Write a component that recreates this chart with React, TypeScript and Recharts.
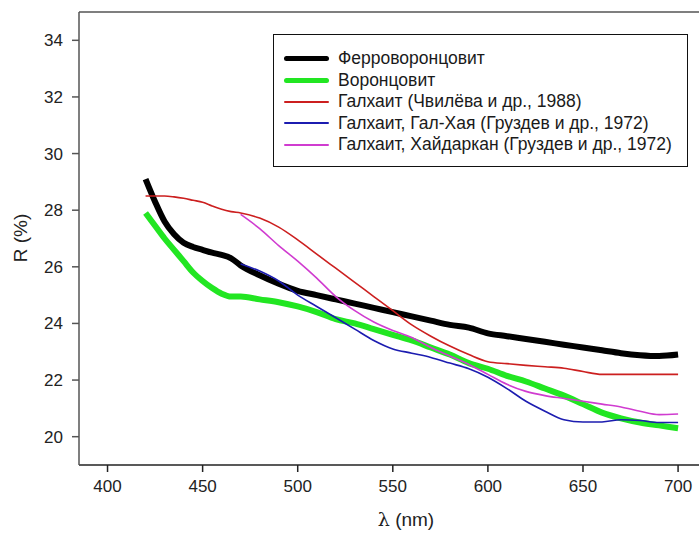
import { LineChart, Line, XAxis, YAxis, ReferenceLine, Label } from "recharts";

// wavelength grids (nm)
const wlA = [420, 425, 430, 435, 440, 445, 450, 455, 460, 465, 470, 480, 490, 500, 510, 520, 530, 540, 550, 560, 570, 580, 590, 600, 610, 620, 630, 640, 650, 660, 670, 680, 690, 700];
const wlB = [470, 480, 490, 500, 510, 520, 530, 540, 550, 560, 570, 580, 590, 600, 610, 620, 630, 640, 650, 660, 670, 680, 690, 700];

// reflectance R (%)
const ferro = [29.1, 28.3, 27.6, 27.15, 26.85, 26.7, 26.6, 26.5, 26.42, 26.3, 26.05, 25.7, 25.4, 25.15, 25.0, 24.85, 24.7, 24.55, 24.4, 24.25, 24.1, 23.95, 23.85, 23.65, 23.55, 23.45, 23.35, 23.25, 23.15, 23.05, 22.95, 22.88, 22.85, 22.9];
const voron = [27.9, 27.45, 27.0, 26.6, 26.2, 25.8, 25.5, 25.25, 25.05, 24.95, 24.95, 24.85, 24.75, 24.6, 24.4, 24.15, 24.0, 23.8, 23.6, 23.4, 23.15, 22.9, 22.6, 22.4, 22.15, 21.95, 21.7, 21.45, 21.15, 20.85, 20.65, 20.5, 20.4, 20.3];
const chvileva = [28.5, 28.5, 28.5, 28.47, 28.42, 28.35, 28.28, 28.15, 28.03, 27.95, 27.9, 27.72, 27.4, 26.95, 26.45, 25.95, 25.45, 24.95, 24.45, 23.95, 23.55, 23.2, 22.9, 22.65, 22.58, 22.52, 22.47, 22.42, 22.3, 22.2, 22.2, 22.2, 22.2, 22.2];
const galKhaya = [26.1, 25.85, 25.5, 25.0, 24.6, 24.2, 23.8, 23.4, 23.1, 22.95, 22.8, 22.6, 22.4, 22.1, 21.7, 21.25, 20.9, 20.6, 20.52, 20.52, 20.6, 20.57, 20.5, 20.5];
const khaidarkan = [27.85, 27.35, 26.75, 26.2, 25.6, 24.95, 24.45, 24.05, 23.75, 23.5, 23.15, 22.85, 22.55, 22.2, 21.85, 21.6, 21.45, 21.35, 21.25, 21.15, 21.05, 20.9, 20.78, 20.8];

const xTicks = [400, 450, 500, 550, 600, 650, 700];
const yTicks = [20, 22, 24, 26, 28, 30, 32, 34];

const toPts = (xs: number[], ys: number[]) => xs.map((x, i) => ({ x, y: ys[i] }));

const series = [
  { name: "Ферроворонцовит", data: toPts(wlA, ferro), color: "#000000", width: 6 },
  { name: "Воронцовит", data: toPts(wlA, voron), color: "#22e622", width: 6 },
  { name: "Галхаит (Чвилёва и др., 1988)", data: toPts(wlA, chvileva), color: "#cc1f1f", width: 1.6 },
  { name: "Галхаит, Гал-Хая (Груздев и др., 1972)", data: toPts(wlB, galKhaya), color: "#1c1cb0", width: 1.6 },
  { name: "Галхаит, Хайдаркан (Груздев и др., 1972)", data: toPts(wlB, khaidarkan), color: "#d03cd0", width: 1.6 },
];

const FONT = "'Liberation Sans', Arial, sans-serif";

const LegendBox = () => (
  <div
    style={{
      position: "absolute",
      left: 273,
      top: 34,
      border: "1.5px solid #111",
      background: "#fff",
      width: 415,
      height: 133,
      boxSizing: "border-box",
      padding: "13px 0 0 10px",
      fontFamily: FONT,
      fontSize: 17.5,
      color: "#1a1a1a",
    }}
  >
    {series.map((s) => (
      <div key={s.name} style={{ display: "flex", alignItems: "center", height: 21.5, whiteSpace: "nowrap" }}>
        <div
          style={{
            width: 45,
            flex: "none",
            height: s.width > 3 ? 5 : 2,
            borderRadius: 3,
            background: s.color,
            marginRight: 9,
          }}
        />
        <span>{s.name}</span>
      </div>
    ))}
  </div>
);

const XTitle = () => (
  <text x={406} y={526} textAnchor="middle" fill="#222" fontSize={19} fontFamily={FONT}>
    <tspan fontFamily="'DejaVu Serif', serif">λ</tspan> (nm)
  </text>
);

const YTitle = () => (
  <text x={27} y={238} transform="rotate(-90 27 238)" textAnchor="middle" fill="#222" fontSize={19} fontFamily={FONT}>
    R (%)
  </text>
);

export default function App() {
  return (
    <div style={{ position: "absolute", left: 0, top: 0, width: 699, height: 541, background: "#fff", overflow: "hidden" }}>
      <LineChart width={699} height={541} margin={{ top: 12, right: 0, left: 0, bottom: 0 }}>
        <XAxis
          type="number"
          dataKey="x"
          domain={[385, 711]}
          ticks={xTicks}
          allowDataOverflow
          height={76}
          stroke="#222"
          strokeWidth={1.5}
          tickSize={7}
          tickMargin={8}
          tick={{ fill: "#222", fontSize: 17, fontFamily: FONT }}
        >
          <Label content={<XTitle />} />
        </XAxis>
        <YAxis
          type="number"
          domain={[19, 35]}
          ticks={yTicks}
          allowDataOverflow
          width={79}
          stroke="#555"
          strokeWidth={1.5}
          tickSize={7}
          tickMargin={9}
          tick={{ fill: "#222", fontSize: 17, fontFamily: FONT }}
        >
          <Label content={<YTitle />} />
        </YAxis>
        <ReferenceLine y={35} stroke="#555" strokeWidth={1.5} />
        {series.map((s) => (
          <Line
            key={s.name}
            data={s.data}
            dataKey="y"
            type="monotone"
            stroke={s.color}
            strokeWidth={s.width}
            dot={false}
            isAnimationActive={false}
          />
        ))}
      </LineChart>
      <LegendBox />
    </div>
  );
}
